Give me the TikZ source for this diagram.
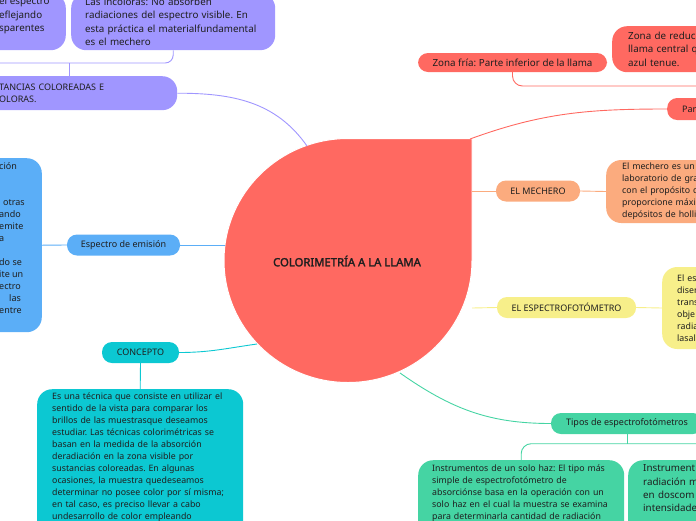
\documentclass[tikz,border=0pt]{standalone}
\usepackage{fontspec}
\setmainfont{Noto Sans}
\newfontfamily\negrita{Noto Sans}[FakeBold=2.2]
\usetikzlibrary{positioning,calc}
\frenchspacing
\hyphenpenalty=10000
\exhyphenpenalty=10000

\definecolor{lila}{HTML}{A096FF}
\definecolor{rojo}{HTML}{FF6961}
\definecolor{naranja}{HTML}{FBAB7E}
\definecolor{amarillo}{HTML}{F7EF8A}
\definecolor{verde}{HTML}{45D4A3}
\definecolor{cian}{HTML}{0CC8D2}
\definecolor{azul}{HTML}{5BAEF7}
\definecolor{texto}{HTML}{1F1F1F}

\tikzset{
  chica/.style={font=\fontsize{9}{12}\selectfont},
  parrafo/.style={font=\fontsize{8.8}{12}\selectfont},
  grande/.style={font=\fontsize{9.8}{13.4}\selectfont},
  pill/.style={rounded corners=10, minimum height=21, inner xsep=0, inner ysep=0, text=texto, chica},
  caja/.style={rounded corners=15, align=left, text=texto, inner ysep=0},
  rama/.style={line width=0.9pt}
}

\begin{document}
\begin{tikzpicture}[x=1pt,y=-1pt]
    \useasboundingbox (0,0) rectangle (696,520);
    \clip (0,0) rectangle (696,520);
    % Llama central
    \fill[rojo, draw=white, line width=1pt] (472,138.5) -- (472,260.5)
        .. controls (472,327.9) and (416.5,382.5) .. (348,382.5)
        .. controls (279.5,382.5) and (224,327.9) .. (224,260.5)
        .. controls (224,193.1) and (279.5,138.5) .. (348,138.5) -- cycle;
    \node[font=\fontsize{11.3}{13}\negrita, text=texto] (titulo) at (347,261) {COLORIMETRÍA A LA LLAMA};
    % Puntos de salida en el borde
    \coordinate (llama-no) at (307,146);
    \coordinate (llama-o) at (225,245);
    \coordinate (llama-so) at (257,344);
    \coordinate (llama-s) at (400,373);
    \coordinate (llama-ne) at (470,139);
    \coordinate (llama-e1) at (472,191);
    \coordinate (llama-e2) at (472,308);
    % Sustancias
    \node[caja, fill=lila, minimum width=226, minimum height=57, anchor=north east] (incA) at (66,-7) {};
    \node[grande, anchor=north west, align=left, inner sep=0, text=texto] (incA-t) at (-1,-2.9)
        {el espectro\\eflejando\\sparentes};
    \node[caja, grande, fill=lila, text width=176, inner xsep=14, minimum height=57, anchor=north west] (incB) at (71,-7)
        {Las incoloras: No absorben\\radiaciones del espectro visible. En\\esta práctica el materialfundamental\\es el mechero};
    \node[caja, chica, fill=lila, text width=140, inner xsep=38, minimum height=34, anchor=north west] (incC) at (-39,76)
        {TANCIAS COLOREADAS E\\OLORAS.};
    % Espectro de emision
    \node[caja, fill=azul, minimum width=142, minimum height=174, anchor=north east] (emisD) at (42,158) {};
    \foreach \k/\x/\t in {0/-1/ción, 3/3/otras, 4/-1/ando, 5/-1/emite, 6/-1/a,
                          8/-1/do se, 9/-1/ite un, 10/-1/ectro, 11/9/las, 12/-1/entre}
        \node[chica, anchor=base west, inner sep=0, text=texto] (emisD-\k) at (\x,169.4+12*\k) {\t};
    \node[pill, fill=azul, minimum width=113] (emision) at (123.5,245) {Espectro de emisión};
    % Concepto
    \node[pill, fill=cian, minimum width=77] (concepto) at (140.5,352.5) {CONCEPTO};
    \node[caja, parrafo, fill=cian, text width=176, inner xsep=15, inner ysep=3.6, anchor=north west] (concepto-d) at (37,389)
        {Es una técnica que consiste en utilizar el\\sentido de la vista para comparar los\\brillos de las muestrasque deseamos\\estudiar. Las técnicas colorimétricas se\\basan en la medida de la absorción\\deradiación en la zona visible por\\sustancias coloreadas. En algunas\\ocasiones, la muestra quedeseamos\\determinar no posee color por sí misma;\\en tal caso, es preciso llevar a cabo\\undesarrollo de color empleando\\~\\~};
    % Partes de la llama
    \node[pill, grande, fill=rojo, minimum width=189, minimum height=19] (zfria) at (512.5,62.5) {Zona fría: Parte inferior de la llama};
    \node[caja, grande, fill=rojo, text width=150, inner xsep=16, minimum height=46, anchor=north west] (zreduc) at (612,26)
        {Zona de reduc\\llama central q\\azul tenue.};
    \node[pill, fill=rojo, text width=60, inner xsep=15, minimum height=22, anchor=west, align=left] (partes) at (667,109) {Par};
    \coordinate (zfria-fin) at (700,86);
    % El mechero
    \node[pill, fill=naranja, minimum width=84] (mechero) at (538,191) {EL MECHERO};
    \node[caja, parrafo, fill=naranja, text width=150, inner xsep=16, minimum height=63, anchor=west] (mechero-d) at (606,191.5)
        {El mechero es un in\\laboratorio de gran\\con el propósito de\\proporcione máxim\\depósitos de hollin};
    % El espectrofotometro
    \node[pill, fill=amarillo, minimum width=139] (espectro) at (566.5,307.5) {EL ESPECTROFOTÓMETRO};
    \node[caja, parrafo, fill=amarillo, text width=150, inner xsep=15, minimum height=82, anchor=west] (espectro-d) at (662,308)
        {El es\\diser\\trans\\obje\\radia\\lasal};
    % Tipos
    \node[pill, fill=verde, minimum width=152] (tipos) at (627,423.5) {Tipos de espectrofotómetros};
    \node[caja, parrafo, fill=verde, text width=178, inner xsep=14, inner ysep=4.6, anchor=north west] (haz1) at (418,460)
        {Instrumentos de un solo haz: El tipo más\\simple de espectrofotómetro de\\absorciónse basa en la operación con un\\solo haz en el cual la muestra se examina\\para determinarla cantidad de radiación\\~\\~};
    \node[caja, grande, fill=verde, text width=176, inner xsep=15, inner ysep=4.5, anchor=north west] (haz2) at (628,460)
        {Instrument\\radiación m\\en doscom\\intensidade\\~\\~};
    % Conexiones
    \draw[rama, lila] (incC.east) to[out=0, in=125] (llama-no);
    \draw[rama, lila] (incC.north) -- ++(0,-13) coordinate (incC-b);
    \draw[rama, lila, rounded corners=8] (incA.south) |- (incC-b) -| (incB.south);
    \draw[rama, azul] (emisD.east) -- (emision.west);
    \draw[rama, azul] (emision.east) -- (llama-o);
    \draw[rama, cian] (concepto.east) to[out=0, in=188] (llama-so);
    \draw[rama, cian] (concepto.south) -- (concepto-d.north);
    \draw[rama, rojo] (llama-ne) to[out=20, in=180] (partes.west);
    \draw[rama, rojo, rounded corners=10] (zfria.south) |- (zfria-fin);
    \draw[rama, naranja] (llama-e1) -- (mechero.west);
    \draw[rama, naranja] (mechero.east) -- (mechero-d.west);
    \draw[rama, amarillo] (llama-e2) -- (espectro.west);
    \draw[rama, amarillo] (espectro.east) -- (espectro-d.west);
    \draw[rama, verde] (llama-s) to[out=-35, in=180] (tipos.west);
    \draw[rama, verde] (tipos.south) -- ++(0,9.5) coordinate (tipos-b);
    \draw[rama, verde, rounded corners=10] (haz1.north) |- (tipos-b) -| (haz2.north);
\end{tikzpicture}
\end{document}
